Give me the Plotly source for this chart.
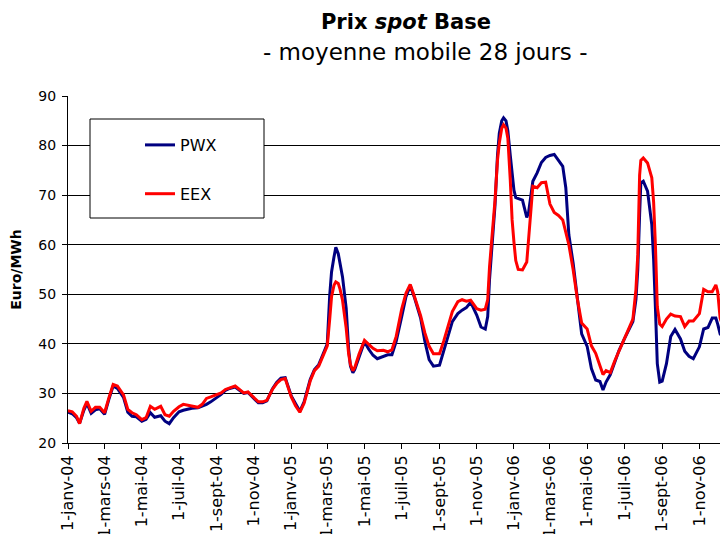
import plotly.graph_objects as go

dates = [
    "2004-01-01", "2004-01-08", "2004-01-15", "2004-01-20", "2004-01-27",
    "2004-02-01", "2004-02-08", "2004-02-15", "2004-02-22",
    "2004-03-01", "2004-03-08", "2004-03-15", "2004-03-22",
    "2004-04-01", "2004-04-08", "2004-04-15", "2004-04-22",
    "2004-05-01", "2004-05-08", "2004-05-15", "2004-05-22",
    "2004-06-01", "2004-06-08", "2004-06-15", "2004-06-22",
    "2004-07-01", "2004-07-08", "2004-07-15", "2004-07-22",
    "2004-08-01", "2004-08-08", "2004-08-15", "2004-08-22",
    "2004-09-01", "2004-09-08", "2004-09-15", "2004-09-22",
    "2004-10-01", "2004-10-08", "2004-10-15", "2004-10-22",
    "2004-11-01", "2004-11-08", "2004-11-15", "2004-11-22",
    "2004-12-01", "2004-12-08", "2004-12-15", "2004-12-22",
    "2005-01-01", "2005-01-08", "2005-01-15", "2005-01-22",
    "2005-02-01", "2005-02-08", "2005-02-15", "2005-02-22",
    "2005-03-01", "2005-03-05", "2005-03-08", "2005-03-12", "2005-03-15",
    "2005-03-19", "2005-03-22", "2005-03-26",
    "2005-04-01", "2005-04-05", "2005-04-08", "2005-04-12", "2005-04-15", "2005-04-22",
    "2005-05-01", "2005-05-08", "2005-05-15", "2005-05-22",
    "2005-06-01", "2005-06-08", "2005-06-15", "2005-06-22",
    "2005-07-01", "2005-07-08", "2005-07-15", "2005-07-22",
    "2005-08-01", "2005-08-08", "2005-08-15", "2005-08-22",
    "2005-09-01", "2005-09-08", "2005-09-15", "2005-09-22",
    "2005-10-01", "2005-10-08", "2005-10-15", "2005-10-22",
    "2005-11-01", "2005-11-08", "2005-11-15", "2005-11-19", "2005-11-22", "2005-11-26",
    "2005-12-01", "2005-12-05", "2005-12-08", "2005-12-12", "2005-12-15",
    "2005-12-19", "2005-12-22", "2005-12-26", "2005-12-29",
    "2006-01-01", "2006-01-04", "2006-01-08", "2006-01-15", "2006-01-22", "2006-01-25",
    "2006-02-01", "2006-02-08", "2006-02-15", "2006-02-22",
    "2006-03-01", "2006-03-08", "2006-03-15", "2006-03-22", "2006-03-27",
    "2006-04-01", "2006-04-08", "2006-04-15", "2006-04-22",
    "2006-05-01", "2006-05-08", "2006-05-15", "2006-05-22", "2006-05-27",
    "2006-06-01", "2006-06-08", "2006-06-15", "2006-06-22",
    "2006-07-01", "2006-07-08", "2006-07-15", "2006-07-20", "2006-07-23",
    "2006-07-26", "2006-07-28",
    "2006-08-01", "2006-08-08", "2006-08-15", "2006-08-18", "2006-08-21",
    "2006-08-24", "2006-08-28",
    "2006-09-01", "2006-09-08", "2006-09-15", "2006-09-22",
    "2006-10-01", "2006-10-08", "2006-10-15", "2006-10-22",
    "2006-11-01", "2006-11-08", "2006-11-15", "2006-11-22", "2006-11-28",
    "2006-12-01", "2006-12-05", "2006-12-10", "2006-12-16", "2006-12-20",
]

pwx = [
    26.2, 25.9, 25.1, 24.0, 26.6,
    28.0, 26.0, 26.7, 26.9,
    25.8, 28.8, 31.5, 31.0,
    29.2, 26.2, 25.4, 25.3,
    24.4, 24.8, 26.1, 25.2,
    25.5, 24.4, 23.9, 25.1,
    26.3, 26.6, 26.8, 27.0,
    27.1, 27.4, 27.8, 28.3,
    29.1, 29.8, 30.6, 31.0,
    31.3, 30.6, 30.0, 30.2,
    28.9, 28.1, 28.1, 28.5,
    30.9, 32.2, 33.1, 33.2,
    29.5, 27.8, 26.4, 28.3,
    32.8, 34.8, 35.8, 37.9,
    40.0, 49.8, 54.5, 57.5, 59.5,
    58.2, 56.3, 53.5,
    47.2, 39.0, 35.5, 34.2, 34.8, 37.4,
    40.4, 38.9, 37.7, 37.0,
    37.5, 37.8, 37.8, 40.5,
    45.5, 49.5, 51.7, 49.3,
    45.2, 40.5, 36.8, 35.5,
    35.7, 38.6, 41.8, 44.5,
    46.1, 46.8, 47.3, 48.4,
    45.8, 43.4, 43.0, 45.5, 53.0, 60.0,
    68.0, 78.0, 82.5, 85.0, 85.6,
    85.0, 83.0, 78.0, 74.0,
    71.0, 69.5, 69.3, 69.0, 65.5, 66.5,
    72.8, 74.5, 76.6, 77.6,
    78.0, 78.2, 77.0, 75.8, 71.5,
    62.0, 56.3, 48.5, 42.0,
    39.5, 35.0, 32.7, 32.4, 30.7,
    32.3, 33.8, 36.3, 38.6,
    41.0, 42.7, 44.5, 49.0, 55.0,
    66.0, 72.5,
    72.8, 70.8, 64.0, 57.0, 47.0,
    36.0, 32.3,
    32.5, 36.0, 41.5, 42.9,
    41.0, 38.5, 37.5, 37.0,
    39.4, 43.0, 43.3, 45.2, 45.2,
    44.0, 42.0, 41.4, 42.0, 41.8,
]

eex = [
    26.5, 26.3, 25.4, 23.9, 27.0,
    28.4, 26.4, 27.2, 27.2,
    26.1, 29.1, 31.8, 31.5,
    29.7, 26.8, 26.1, 25.7,
    24.7, 25.1, 27.4, 26.8,
    27.4, 25.7, 25.4, 26.4,
    27.3, 27.8, 27.6, 27.4,
    27.2, 27.8, 29.0, 29.3,
    29.7, 30.1, 30.8, 31.1,
    31.5, 30.8, 30.1, 30.3,
    29.1, 28.3, 28.3, 28.6,
    30.8, 32.0, 32.8, 33.0,
    29.3, 27.5, 26.2, 28.0,
    32.5, 34.6, 35.5, 37.5,
    39.6, 45.0, 49.5, 51.8, 52.5,
    52.2, 51.0, 48.8,
    43.2, 38.0, 35.8, 34.6, 35.2, 37.9,
    40.7, 39.9, 39.1, 38.6,
    38.7, 38.4, 38.8, 41.5,
    47.0, 50.2, 52.0, 49.5,
    45.7, 42.2, 39.5, 38.0,
    38.0, 40.6, 43.7, 46.5,
    48.5, 48.9, 48.6, 48.8,
    47.1, 46.8, 47.0, 48.9, 55.6, 61.5,
    69.0, 77.0, 80.5, 83.5, 84.2,
    83.5, 81.5, 73.0, 65.0,
    60.5, 56.8, 55.0, 54.9, 56.5, 61.0,
    71.8, 71.5, 72.5, 72.6,
    68.2, 66.5, 65.9, 65.0, 62.5,
    60.0, 55.0, 49.0, 44.2,
    43.0, 39.6, 38.1, 35.6, 33.8,
    34.6, 34.2, 36.5, 38.5,
    41.0, 43.1, 45.0, 51.0, 58.0,
    74.0, 77.0,
    77.5, 76.5, 73.5, 68.5, 59.6,
    47.5, 44.0,
    43.5, 45.0, 46.0, 45.6,
    45.5, 43.5, 44.6, 44.6,
    46.1, 51.0, 50.5, 50.5, 51.9,
    50.5, 45.2, 43.4, 42.4, 42.0,
]

tick_dates = [
    "2004-01-01", "2004-03-01", "2004-05-01", "2004-07-01", "2004-09-01", "2004-11-01",
    "2005-01-01", "2005-03-01", "2005-05-01", "2005-07-01", "2005-09-01", "2005-11-01",
    "2006-01-01", "2006-03-01", "2006-05-01", "2006-07-01", "2006-09-01", "2006-11-01",
]
tick_labels = [
    "1-janv-04", "1-mars-04", "1-mai-04", "1-juil-04", "1-sept-04", "1-nov-04",
    "1-janv-05", "1-mars-05", "1-mai-05", "1-juil-05", "1-sept-05", "1-nov-05",
    "1-janv-06", "1-mars-06", "1-mai-06", "1-juil-06", "1-sept-06", "1-nov-06",
]

# page body adds an 8px offset; positions below are given in figure pixels
W, H = 728, 534
L, R, T, B = 60, 0, 88, 99
PW, PH = W - L - R, H - T - B


def px_x(x):
    return (x - L) / PW


def px_y(y):
    return 1 - (y - T) / PH


fig = go.Figure()
fig.add_trace(go.Scatter(x=dates, y=pwx, mode="lines", name="PWX",
                         legendgroup="a",
                         line=dict(color="#000080", width=3)))
fig.add_trace(go.Scatter(x=dates, y=eex, mode="lines", name="EEX",
                         legendgroup="b",
                         line=dict(color="#FF0000", width=3)))

base_font = "DejaVu Sans, Verdana, sans-serif"

fig.update_layout(
    width=W, height=H,
    margin=dict(l=L, r=R, t=T, b=B, pad=0, autoexpand=False),
    paper_bgcolor="white", plot_bgcolor="white",
    font=dict(family=base_font, color="black", size=14),
    title=dict(text="<b>Prix <i>spot</i> Base</b>",
               x=398 / W, xanchor="center", xref="container",
               y=1 - 14 / H, yanchor="middle", yref="container",
               font=dict(family=base_font, size=21, color="black")),
    showlegend=True,
    legend=dict(x=px_x(132), y=px_y(120),
                xanchor="left", yanchor="top",
                bgcolor="rgba(0,0,0,0)", borderwidth=0,
                tracegroupgap=25,
                font=dict(family=base_font, size=16, color="black")),
    xaxis=dict(
        type="date", automargin=False,
        range=["2004-01-01", "2006-12-31"],
        tickmode="array", tickvals=tick_dates, ticktext=tick_labels,
        tickangle=-90, ticks="outside", ticklen=5, tickcolor="black",
        showline=True, linecolor="black", linewidth=1,
        showgrid=False, zeroline=False,
        tickfont=dict(family=base_font, size=16, color="black"),
    ),
    yaxis=dict(
        automargin=False,
        range=[20, 90], dtick=10, tick0=20,
        ticks="outside", ticklen=5, tickcolor="black",
        ticklabelstandoff=3,
        showline=True, linecolor="black", linewidth=1,
        showgrid=True, gridcolor="black", gridwidth=1,
        zeroline=False,
        tickfont=dict(family=base_font, size=14, color="black"),
        title=dict(text="<b>Euro/MWh</b>", standoff=22,
                   font=dict(family=base_font, size=14, color="black")),
    ),
    shapes=[dict(type="rect", xref="paper", yref="paper",
                 x0=px_x(82), x1=px_x(256), y0=px_y(210), y1=px_y(111),
                 line=dict(color="black", width=1), fillcolor="white", layer="above")],
    annotations=[dict(text="- moyenne mobile 28 jours -", xref="paper", yref="paper",
                      x=px_x(417), y=px_y(44),
                      xanchor="center", yanchor="middle", showarrow=False,
                      font=dict(family=base_font, size=23, color="black"))],
)

fig.write_html("out.html")
